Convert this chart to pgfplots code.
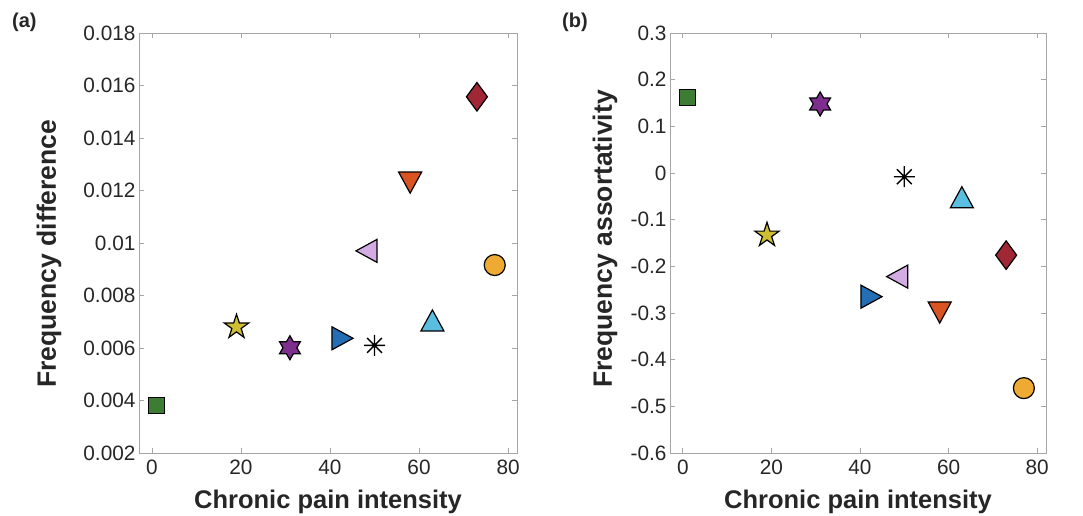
\documentclass[border=0pt]{standalone}
\usepackage{fontspec}
\setmainfont{Liberation Sans}
\usepackage{pgfplots}
\pgfplotsset{compat=1.18}

\definecolor{cGreen}{RGB}{61,125,51}
\definecolor{cStar}{RGB}{205,190,50}
\definecolor{cPurple}{RGB}{126,47,142}
\definecolor{cBlue}{RGB}{35,110,180}
\definecolor{cLav}{RGB}{212,172,228}
\definecolor{cOrRed}{RGB}{217,83,35}
\definecolor{cCyan}{RGB}{90,190,225}
\definecolor{cDRed}{RGB}{160,40,52}
\definecolor{cOrange}{RGB}{238,170,50}
\definecolor{cTxt}{RGB}{38,38,38}

\pgfdeclareplotmark{pstar}{%
 \pgfpathmoveto{\pgfqpointpolar{90}{\pgfplotmarksize}}%
 \pgfpathlineto{\pgfqpointpolar{126}{0.382\pgfplotmarksize}}%
 \pgfpathlineto{\pgfqpointpolar{162}{\pgfplotmarksize}}%
 \pgfpathlineto{\pgfqpointpolar{198}{0.382\pgfplotmarksize}}%
 \pgfpathlineto{\pgfqpointpolar{234}{\pgfplotmarksize}}%
 \pgfpathlineto{\pgfqpointpolar{270}{0.382\pgfplotmarksize}}%
 \pgfpathlineto{\pgfqpointpolar{306}{\pgfplotmarksize}}%
 \pgfpathlineto{\pgfqpointpolar{342}{0.382\pgfplotmarksize}}%
 \pgfpathlineto{\pgfqpointpolar{18}{\pgfplotmarksize}}%
 \pgfpathlineto{\pgfqpointpolar{54}{0.382\pgfplotmarksize}}%
 \pgfpathclose
 \pgfusepathqfillstroke}

\pgfdeclareplotmark{hexa}{%
 \pgfpathmoveto{\pgfqpointpolar{90}{\pgfplotmarksize}}%
 \pgfpathlineto{\pgfqpointpolar{120}{0.577\pgfplotmarksize}}%
 \pgfpathlineto{\pgfqpointpolar{150}{\pgfplotmarksize}}%
 \pgfpathlineto{\pgfqpointpolar{180}{0.577\pgfplotmarksize}}%
 \pgfpathlineto{\pgfqpointpolar{210}{\pgfplotmarksize}}%
 \pgfpathlineto{\pgfqpointpolar{240}{0.577\pgfplotmarksize}}%
 \pgfpathlineto{\pgfqpointpolar{270}{\pgfplotmarksize}}%
 \pgfpathlineto{\pgfqpointpolar{300}{0.577\pgfplotmarksize}}%
 \pgfpathlineto{\pgfqpointpolar{330}{\pgfplotmarksize}}%
 \pgfpathlineto{\pgfqpointpolar{0}{0.577\pgfplotmarksize}}%
 \pgfpathlineto{\pgfqpointpolar{30}{\pgfplotmarksize}}%
 \pgfpathlineto{\pgfqpointpolar{60}{0.577\pgfplotmarksize}}%
 \pgfpathclose
 \pgfusepathqfillstroke}

\pgfdeclareplotmark{ast8}{%
 \pgfpathmoveto{\pgfqpointpolar{0}{\pgfplotmarksize}}\pgfpathlineto{\pgfqpointpolar{180}{\pgfplotmarksize}}%
 \pgfpathmoveto{\pgfqpointpolar{45}{\pgfplotmarksize}}\pgfpathlineto{\pgfqpointpolar{225}{\pgfplotmarksize}}%
 \pgfpathmoveto{\pgfqpointpolar{90}{\pgfplotmarksize}}\pgfpathlineto{\pgfqpointpolar{270}{\pgfplotmarksize}}%
 \pgfpathmoveto{\pgfqpointpolar{135}{\pgfplotmarksize}}\pgfpathlineto{\pgfqpointpolar{315}{\pgfplotmarksize}}%
 \pgfusepathqstroke}

\pgfdeclareplotmark{tri}{%
 \pgfpathmoveto{\pgfqpoint{0pt}{0.917\pgfplotmarksize}}%
 \pgfpathlineto{\pgfqpoint{\pgfplotmarksize}{-0.917\pgfplotmarksize}}%
 \pgfpathlineto{\pgfqpoint{-\pgfplotmarksize}{-0.917\pgfplotmarksize}}%
 \pgfpathclose
 \pgfusepathqfillstroke}

\pgfdeclareplotmark{dia}{%
 \pgfpathmoveto{\pgfqpoint{0pt}{1.36\pgfplotmarksize}}%
 \pgfpathlineto{\pgfqpoint{\pgfplotmarksize}{0pt}}%
 \pgfpathlineto{\pgfqpoint{0pt}{-1.36\pgfplotmarksize}}%
 \pgfpathlineto{\pgfqpoint{-\pgfplotmarksize}{0pt}}%
 \pgfpathclose
 \pgfusepathqfillstroke}

\pgfplotsset{
  myaxis/.style={
    scale only axis,
    height=420pt,
    xmin=-2.9, xmax=82,
    xtick={0,20,40,60,80},
    xticklabels={0,20,40,60,80},
    scaled y ticks=false,
    scaled x ticks=false,
    tick align=inside,
    major tick length=5pt,
    axis line style={black!35, line width=0.8pt},
    tick style={black!35, line width=0.8pt},
    tick label style={font=\fontsize{20.8}{24}\selectfont, text=cTxt},
    xticklabel style={yshift=-3pt},
    xlabel style={font=\bfseries\fontsize{25.5}{30}\selectfont, text=cTxt},
    ylabel style={font=\bfseries\fontsize{26.5}{30}\selectfont, text=cTxt},
    xlabel={Chronic pain intensity},
    xlabel style={at={(axis description cs:0.5,-0.131)}, anchor=base},
    clip=false,
  },
  mk/.style={only marks, mark options={draw=black, line width=1.2pt, fill=#1}},
}

\begin{document}
\begin{tikzpicture}
\useasboundingbox (-139pt,-62pt) rectangle (944pt,453pt);

\begin{axis}[myaxis, width=378pt, at={(0pt,0pt)}, anchor=south west,
  ymin=0.002, ymax=0.018,
  ytick={0.002,0.004,0.006,0.008,0.01,0.012,0.014,0.016,0.018},
  yticklabels={0.002,0.004,0.006,0.008,0.01,0.012,0.014,0.016,0.018},
  ylabel={Frequency difference},
  ylabel style={at={(axis description cs:-0.238,0.155)}, anchor=west, inner sep=0pt},
]
\addplot[mk=cGreen, mark=square*, mark size=8pt] coordinates {(1,0.0038)};
\addplot[mk=cStar, mark=pstar, mark size=12.8pt] coordinates {(19,0.0068)};
\addplot[mk=cPurple, mark=hexa, mark size=12pt] coordinates {(31,0.00601)};
\addplot[mk=cBlue, mark=tri, mark size=11.5pt, every mark/.append style={rotate=-90}] coordinates {(42.8,0.00637)};
\addplot[only marks, mark=ast8, mark size=10.5pt, mark options={draw=black, line width=1.4pt}] coordinates {(50,0.0061)};
\addplot[mk=cLav, mark=tri, mark size=11.5pt, every mark/.append style={rotate=90}] coordinates {(48.2,0.0097)};
\addplot[mk=cOrRed, mark=tri, mark size=11.5pt, every mark/.append style={rotate=180}] coordinates {(58,0.0123)};
\addplot[mk=cCyan, mark=tri, mark size=11.5pt] coordinates {(63,0.00705)};
\addplot[mk=cDRed, mark=dia, mark size=10.5pt] coordinates {(73,0.01557)};
\addplot[mk=cOrange, mark=*, mark size=10.5pt] coordinates {(77,0.00916)};
\end{axis}

\begin{axis}[myaxis, width=376pt, at={(531pt,0pt)}, anchor=south west,
  ymin=-0.6, ymax=0.3,
  ytick={-0.6,-0.5,-0.4,-0.3,-0.2,-0.1,0,0.1,0.2,0.3},
  yticklabels={-0.6,-0.5,-0.4,-0.3,-0.2,-0.1,0,0.1,0.2,0.3},
  ylabel={Frequency assortativity},
  ylabel style={at={(axis description cs:-0.173,0.155)}, anchor=west, inner sep=0pt},
]
\addplot[mk=cGreen, mark=square*, mark size=8pt] coordinates {(1,0.162)};
\addplot[mk=cStar, mark=pstar, mark size=12.8pt] coordinates {(19,-0.133)};
\addplot[mk=cPurple, mark=hexa, mark size=12pt] coordinates {(31,0.148)};
\addplot[mk=cBlue, mark=tri, mark size=11.5pt, every mark/.append style={rotate=-90}] coordinates {(42.6,-0.265)};
\addplot[only marks, mark=ast8, mark size=10.5pt, mark options={draw=black, line width=1.4pt}] coordinates {(50,-0.008)};
\addplot[mk=cLav, mark=tri, mark size=11.5pt, every mark/.append style={rotate=90}] coordinates {(48.4,-0.222)};
\addplot[mk=cOrRed, mark=tri, mark size=11.5pt, every mark/.append style={rotate=180}] coordinates {(58,-0.299)};
\addplot[mk=cCyan, mark=tri, mark size=11.5pt] coordinates {(63,-0.052)};
\addplot[mk=cDRed, mark=dia, mark size=10.5pt] coordinates {(73,-0.176)};
\addplot[mk=cOrange, mark=*, mark size=10.5pt] coordinates {(77,-0.461)};
\end{axis}

\node[anchor=west, inner sep=0pt, font=\bfseries\fontsize{20}{24}\selectfont, text=cTxt] at (-127pt,431pt) {(a)};
\node[anchor=west, inner sep=0pt, font=\bfseries\fontsize{20}{24}\selectfont, text=cTxt] at (423pt,431pt) {(b)};
\end{tikzpicture}
\end{document}
